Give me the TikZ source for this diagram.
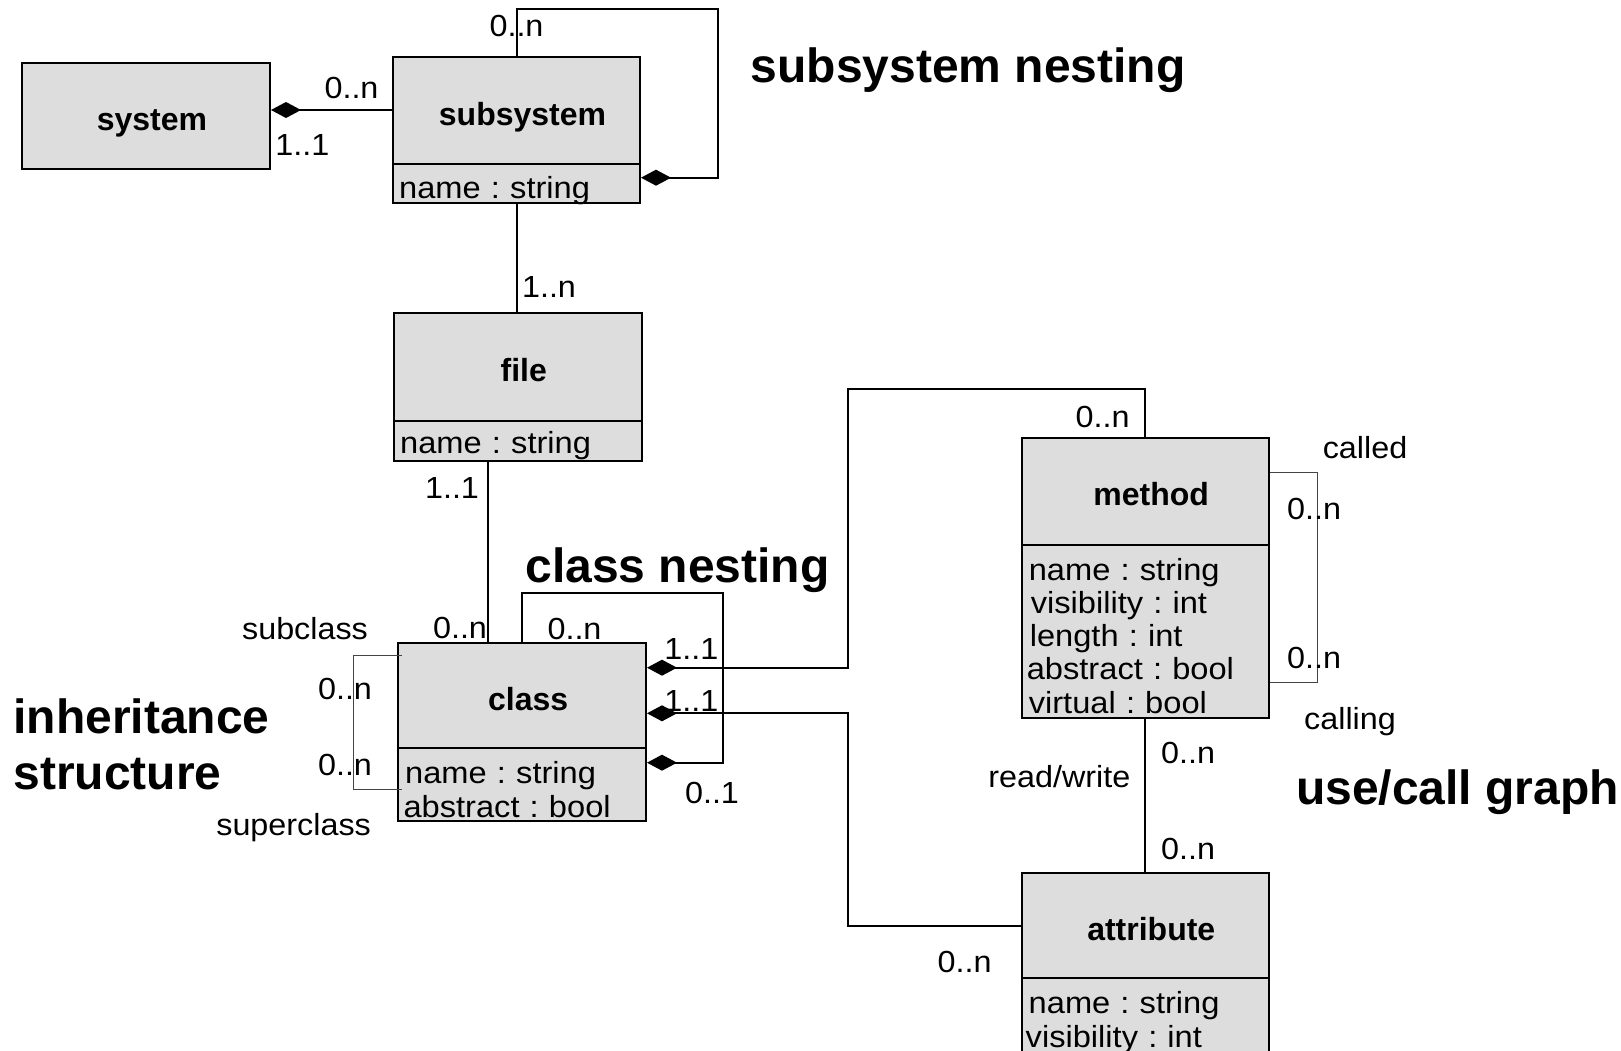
\documentclass[tikz,border=0pt]{standalone}
\usepackage{fontspec}
\setmainfont{Liberation Sans}
\newfontfamily\attrfont[FakeStretch=1.07]{Liberation Sans}
\newfontfamily\labelfont[FakeStretch=1.06]{Liberation Sans}
\usetikzlibrary{arrows.meta,calc}
\definecolor{boxfill}{HTML}{DDDDDD}
\definecolor{thinline}{HTML}{444444}
\frenchspacing
\begin{document}
\begin{tikzpicture}[x=1pt,y=-1pt,
  box/.style={draw=black, line width=2pt, fill=boxfill, inner sep=0pt, minimum width=248pt},
  titlebox/.style={box, font={\fontsize{32}{38}\selectfont\bfseries}, text height=29.5pt, text depth=0pt, execute at begin node={\hspace*{12pt}}},
  attrtext/.style={anchor=base west, inner sep=0pt, font={\attrfont\fontsize{30.5}{33.3}\selectfont\frenchspacing}, align=left, text width=240pt},
  mult/.style={inner sep=0pt, font={\labelfont\fontsize{30.5}{36}\selectfont}},
  heading/.style={anchor=base west, inner sep=0pt, font={\fontsize{48}{57}\selectfont\bfseries}},
  conn/.style={line width=2pt, draw=black},
  thinconn/.style={line width=1pt, draw=thinline},
  dia/.style={{Diamond[length=30pt,width=16pt]}-}
]
\clip (0,0) rectangle (1621,1051);

% boxes
\node[titlebox, minimum width=248pt, minimum height=106.3pt] (sys) at (146,115.85) {system};

\node[titlebox, minimum width=247pt, minimum height=106.7pt] (subT) at (516.5,110.65) {subsystem};
\node[box, minimum width=247pt, minimum height=39.3pt] (subA) at (516.5,183.65) {};

\node[titlebox, minimum width=247.6pt, minimum height=107.2pt] (fileT) at (517.8,366.9) {file};
\node[box, minimum width=247.6pt, minimum height=40.5pt] (fileA) at (517.8,440.75) {};

\node[titlebox, minimum width=247.7pt, minimum height=105.6pt] (clsT) at (522.15,695.5) {class};
\node[box, minimum width=247.7pt, minimum height=72.7pt] (clsA) at (522.15,784.65) {};

\node[titlebox, minimum width=247.5pt, minimum height=107.3pt] (methT) at (1145.25,491.15) {method};
\node[box, minimum width=247.5pt, minimum height=173.2pt] (methA) at (1145.25,631.4) {};

\node[titlebox, minimum width=247.5pt, minimum height=105.8pt] (attT) at (1145.25,925.4) {attribute};
\node[box, minimum width=247.5pt, minimum height=91.7pt] (attA) at (1145.25,1024.15) {};

% attribute texts
\node[attrtext] (subTx) at (399,198) {name : string};
\node[attrtext] (fileTx) at (400,453.7) {name : string};
\node[attrtext] (clsTx) at (403.3,783.7) {\hspace*{1.7pt}name : string\\abstract : bool};
\node[attrtext] (methTx) at (1026.6,580) {\hspace*{2pt}name : string\\\hspace*{4pt}visibility : int\\\hspace*{3pt}length : int\\abstract : bool\\\hspace*{2pt}virtual : bool};
\node[attrtext] (attTx) at (1025.5,1013.7) {\hspace*{3pt}name : string\\visibility : int};

% connectors
\draw[conn, dia] (sys.east |- 0,110) -- (subT.west |- 0,110);

\coordinate (sl1) at (717.5,9);
\draw[conn, dia] (subA.east |- 0,177.7) -- (sl1 |- 0,177.7) -- (sl1) -- (subT.north |- sl1) -- (subT.north);

\draw[conn] (subA.south) -- (subA.south |- fileT.north);

\draw[conn] (488.3,0 |- fileA.south) -- (488.3,0 |- clsT.north);

\coordinate (cl1) at (722.5,593.3);
\draw[conn, dia] (clsA.east |- 0,762.7) -- (cl1 |- 0,762.7) -- (cl1) -- (clsT.north |- cl1) -- (clsT.north);

\coordinate (cm1) at (847.7,389.4);
\draw[conn, dia] (clsT.east |- 0,667.7) -- (cm1 |- 0,667.7) -- (cm1) -- (methT.north |- cm1) -- (methT.north);

\coordinate (ca1) at (847.7,926);
\draw[conn, dia] (clsT.east |- 0,713.3) -- (ca1 |- 0,713.3) -- (ca1) -- (attT.west |- ca1);

\draw[conn] (methA.south) -- (attT.north);

\coordinate (ml1) at (1317,472.5);
\draw[thinconn] (methT.east |- ml1) -- (ml1) -- (ml1 |- 0,682.8) -- (methA.east |- 0,682.8);

\coordinate (il1) at (353.6,655);
\draw[thinconn] ($(clsT.west |- il1)+(5,0)$) -- (il1) -- (il1 |- 0,789.3) -- ($(clsA.west |- 0,789.3)+(5,0)$);

% multiplicities and role labels
\node[mult] (m1) at (351.5,88.3) {0..n};
\node[mult] (m2) at (302.4,145) {1..1};
\node[mult] (m3) at (516.5,26) {0..n};
\node[mult] (m4) at (549,287) {1..n};
\node[mult] (m5) at (452,488) {1..1};
\node[mult] (m6) at (460,628) {0..n};
\node[mult] (m7) at (574.5,628.5) {0..n};
\node[mult] (m8) at (691.4,649) {1..1};
\node[mult] (m9) at (691.4,701) {1..1};
\node[mult] (m10) at (712,793) {0..1};
\node[mult] (m11) at (345,689) {0..n};
\node[mult] (m12) at (345,765) {0..n};
\node[mult] (r1) at (305,629) {subclass};
\node[mult] (r2) at (293.6,828) {superclass};
\node[mult] (m13) at (1102.5,416.5) {0..n};
\node[mult] (r3) at (1365,447.5) {called};
\node[mult] (m14) at (1314,508.5) {0..n};
\node[mult] (m15) at (1314,657.5) {0..n};
\node[mult] (r4) at (1350,722) {calling};
\node[mult] (m16) at (1188,752.5) {0..n};
\node[mult] (m17) at (1188,848.5) {0..n};
\node[mult] (r5) at (1059.4,776.5) {read/write};
\node[mult] (m18) at (964.6,961.5) {0..n};

% headings
\node[heading] (hSub) at (750.5,83) {subsystem nesting};
\node[heading] (hCls) at (525.2,582.5) {class nesting};
\node[heading] (hInh1) at (13.4,733) {inheritance};
\node[heading] (hInh2) at (13.4,789.5) {structure};
\node[heading] (hUse) at (1295.8,804) {use/call graph};
\end{tikzpicture}
\end{document}
